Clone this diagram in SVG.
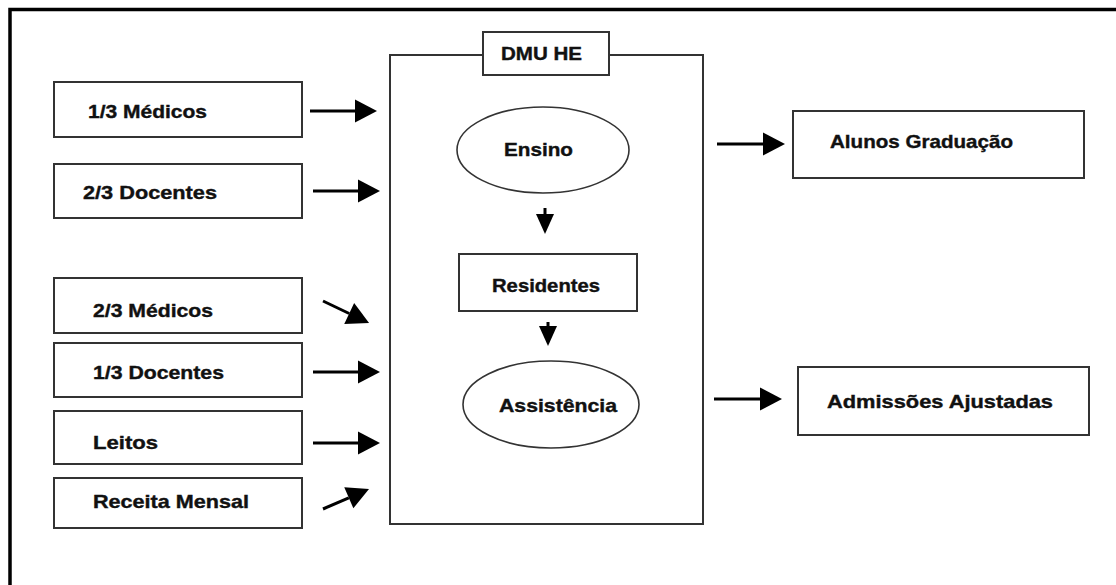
<svg xmlns="http://www.w3.org/2000/svg" width="1116" height="585" viewBox="0 0 1116 585">
<style>
.box{fill:#fff;stroke:#333;stroke-width:2}
.ell{fill:#fff;stroke:#333;stroke-width:1.6}
.t{font-family:"Liberation Sans",Arial,sans-serif;font-weight:bold;font-size:19px;fill:#111;stroke:#111;stroke-width:0.4}
.c{stroke:#000;stroke-width:3;fill:none}
</style>
<defs>
<marker id="ah" markerUnits="userSpaceOnUse" markerWidth="24" markerHeight="24" refX="0" refY="11.5" orient="auto" overflow="visible">
<path d="M0,0 L22,11.5 L0,23 z" fill="#000"/>
</marker>
<marker id="ahs" markerUnits="userSpaceOnUse" markerWidth="22" markerHeight="22" refX="0" refY="9" orient="auto" overflow="visible">
<path d="M0,0 L20,9 L0,18 z" fill="#000"/>
</marker>
</defs>
<rect width="1116" height="585" fill="#fff"/>
<g id="frame">
<path d="M10,585 L10,9.5 L1116,9.5" fill="none" stroke="#000" stroke-width="3.5"/>
</g>
<g id="dmu">
<rect class="box" x="390" y="55" width="313" height="469"/>
<rect class="box" x="483" y="32" width="126" height="43"/>
<text class="t" x="501" y="60" textLength="81" lengthAdjust="spacingAndGlyphs">DMU HE</text>
</g>
<g id="ensino">
<ellipse class="ell" cx="543" cy="150" rx="86" ry="43"/>
<text class="t" x="504" y="156" textLength="69" lengthAdjust="spacingAndGlyphs">Ensino</text>
</g>
<g id="residentes">
<rect class="box" x="459" y="254" width="178" height="57"/>
<text class="t" x="492" y="292" textLength="108" lengthAdjust="spacingAndGlyphs">Residentes</text>
</g>
<g id="assistencia">
<ellipse class="ell" cx="551" cy="404.5" rx="88" ry="43.5"/>
<text class="t" x="499" y="412" textLength="118" lengthAdjust="spacingAndGlyphs">Assistência</text>
</g>
<g id="medicos13">
<rect class="box" x="54" y="82" width="248" height="55"/>
<text class="t" x="88" y="118" textLength="119" lengthAdjust="spacingAndGlyphs">1/3 Médicos</text>
</g>
<g id="docentes23">
<rect class="box" x="54" y="164" width="248" height="54"/>
<text class="t" x="83" y="199" textLength="134" lengthAdjust="spacingAndGlyphs">2/3 Docentes</text>
</g>
<g id="medicos23">
<rect class="box" x="54" y="278" width="248" height="55"/>
<text class="t" x="93" y="317" textLength="120" lengthAdjust="spacingAndGlyphs">2/3 Médicos</text>
</g>
<g id="docentes13">
<rect class="box" x="54" y="343" width="248" height="54"/>
<text class="t" x="93" y="379" textLength="131" lengthAdjust="spacingAndGlyphs">1/3 Docentes</text>
</g>
<g id="leitos">
<rect class="box" x="54" y="411" width="248" height="53"/>
<text class="t" x="93" y="449" textLength="65" lengthAdjust="spacingAndGlyphs">Leitos</text>
</g>
<g id="receita">
<rect class="box" x="54" y="478" width="248" height="50"/>
<text class="t" x="93" y="508" textLength="156" lengthAdjust="spacingAndGlyphs">Receita Mensal</text>
</g>
<g id="alunos">
<rect class="box" x="793" y="111" width="291" height="67"/>
<text class="t" x="830" y="148" textLength="183" lengthAdjust="spacingAndGlyphs">Alunos Graduação</text>
</g>
<g id="admissoes">
<rect class="box" x="798" y="367" width="291" height="68"/>
<text class="t" x="827" y="408" textLength="226" lengthAdjust="spacingAndGlyphs">Admissões Ajustadas</text>
</g>
<g id="connectors">
<line class="c" x1="310" y1="111" x2="355" y2="111" marker-end="url(#ah)"/>
<line class="c" x1="313" y1="191" x2="358" y2="191" marker-end="url(#ah)"/>
<line class="c" x1="323" y1="301" x2="349.2" y2="313.5" marker-end="url(#ah)"/>
<line class="c" x1="313" y1="372" x2="358" y2="372" marker-end="url(#ah)"/>
<line class="c" x1="313" y1="443" x2="358" y2="443" marker-end="url(#ah)"/>
<line class="c" x1="323" y1="509" x2="348.8" y2="497.8" marker-end="url(#ah)"/>
<line class="c" x1="545" y1="208" x2="545" y2="214" marker-end="url(#ahs)"/>
<line class="c" x1="548" y1="322" x2="548" y2="326" marker-end="url(#ahs)"/>
<line class="c" x1="717" y1="144" x2="763" y2="144" marker-end="url(#ah)"/>
<line class="c" x1="714" y1="399" x2="760" y2="399" marker-end="url(#ah)"/>
</g>
</svg>
